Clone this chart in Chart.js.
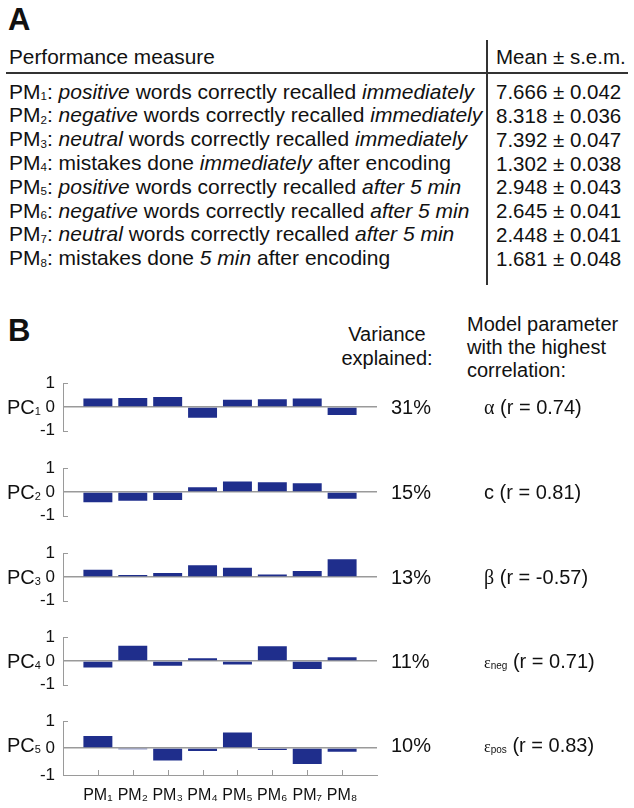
<!DOCTYPE html>
<html>
<head>
<meta charset="utf-8">
<script src="https://cdn.jsdelivr.net/npm/chart.js@4.4.1/dist/chart.umd.min.js"></script>
<style>
  html, body { margin: 0; padding: 0; background: #fff; }
  #fig { position: relative; width: 634px; height: 808px; overflow: hidden;
         font-family: 'Liberation Sans', Arial, Helvetica, sans-serif; color: #111; }
  .t { position: absolute; white-space: nowrap; line-height: normal; }
  .t sub { font-size: 0.55em; vertical-align: baseline; position: relative; top: 0.12em; }
  .t .gr { font-family: 'Liberation Serif', 'Times New Roman', serif; }
  .t .eps { font-family: 'Liberation Serif', 'Times New Roman', serif; font-size: 0.8em; }
  .t .eps + sub { font-size: 0.5em; }
  .box { position: absolute; }
  .rule { position: absolute; background: #333; }
</style>
</head>
<body>
<div id="fig"></div>
<script>
// Tabla A
const PM_LABELS = ['PM₁', 'PM₂', 'PM₃', 'PM₄', 'PM₅', 'PM₆', 'PM₇', 'PM₈'];
const PM_TEXT = [
  '<i>positive</i> words correctly recalled <i>immediately</i>',
  '<i>negative</i> words correctly recalled <i>immediately</i>',
  '<i>neutral</i> words correctly recalled <i>immediately</i>',
  'mistakes done <i>immediately</i> after encoding',
  '<i>positive</i> words correctly recalled <i>after 5 min</i>',
  '<i>negative</i> words correctly recalled <i>after 5 min</i>',
  '<i>neutral</i> words correctly recalled <i>after 5 min</i>',
  'mistakes done <i>5 min</i> after encoding',
];
const MEANS = [7.666, 8.318, 7.392, 1.302, 2.948, 2.645, 2.448, 1.681];
const SEMS = [0.042, 0.036, 0.047, 0.038, 0.043, 0.041, 0.041, 0.048];

// Panel B: cargas de cada componente sobre PM1..PM8
const PC1 = [0.36, 0.38, 0.42, -0.45, 0.30, 0.33, 0.36, -0.34];
const PC2 = [-0.43, -0.37, -0.34, 0.20, 0.44, 0.41, 0.37, -0.28];
const PC3 = [0.30, 0.08, 0.17, 0.49, 0.39, 0.10, 0.25, 0.75];
const PC4 = [-0.27, 0.64, -0.20, 0.12, -0.15, 0.62, -0.34, 0.16];
const PC5 = [0.45, -0.04, -0.46, -0.11, 0.58, -0.07, -0.59, -0.14];
const COMPONENTS = [PC1, PC2, PC3, PC4, PC5];
const VARIANCE = [31, 15, 13, 11, 10];
const PARAM_NAMES = [
  '<span class="gr">α</span>',
  'c',
  '<span class="gr">β</span>',
  '<span class="eps">ε</span><sub>neg</sub>',
  '<span class="eps">ε</span><sub>pos</sub>',
];
const PARAM_R = [0.74, 0.81, -0.57, 0.71, 0.83];

const BAR_COLOR = '#1f2e8c';
const AXIS_GRAY = '#9a9a9a';
const FONT = "'Liberation Sans', Arial, Helvetica, sans-serif";

const fig = document.getElementById('fig');

function text(html, x, base, size, opts = {}) {
  const el = document.createElement('div');
  el.className = 't';
  el.innerHTML = html;
  el.style.fontSize = size + 'px';
  el.style.top = (base - 0.92 * size) + 'px';
  if (opts.bold) el.style.fontWeight = 'bold';
  fig.appendChild(el);
  const w = el.getBoundingClientRect().width;
  if (opts.align === 'center') el.style.left = (x - w / 2) + 'px';
  else if (opts.align === 'right') el.style.left = (x - w) + 'px';
  else el.style.left = x + 'px';
  return el;
}

function rule(x, y, w, h) {
  const el = document.createElement('div');
  el.className = 'rule';
  Object.assign(el.style, { left: x + 'px', top: y + 'px', width: w + 'px', height: h + 'px' });
  fig.appendChild(el);
}

// ---- A ----
text('A', 8, 31, 31, { bold: true });
text('Performance measure', 9, 64, 20.8);
text('Mean ± s.e.m.', 496, 64, 20.5);
rule(6, 72, 622, 2);
rule(486, 40, 1.5, 245);

PM_TEXT.forEach((desc, i) => {
  const base = 99 + i * 23.8;
  text(`PM<sub>${i + 1}</sub>: ${desc}`, 9, base, 21);
  text(`${MEANS[i].toFixed(3)} ± ${SEMS[i].toFixed(3)}`, 496, base, 20.5);
});

// ---- B ----
text('B', 8, 342, 31, { bold: true });
text('Variance', 387, 341, 20, { align: 'center' });
text('explained:', 387, 365, 20, { align: 'center' });
text('Model parameter', 467, 331, 20);
text('with the highest', 467, 354, 20);
text('correlation:', 467, 377, 20);

// marcas del eje: corchete en ±1 y ticks interiores del eje x
const axisDecor = {
  id: 'axisDecor',
  afterDraw(chart) {
    const { ctx, chartArea: { left, bottom }, scales: { x, y } } = chart;
    ctx.save();
    ctx.strokeStyle = AXIS_GRAY;
    ctx.lineWidth = 1;
    ctx.beginPath();
    [1, -1].forEach((v) => {
      const py = Math.round(y.getPixelForValue(v)) + 0.5;
      ctx.moveTo(left, py); ctx.lineTo(left + 5, py);
    });
    if (chart.options.scales.x.display) {
      PM_LABELS.forEach((_, i) => {
        const px = Math.round(x.getPixelForValue(i + 1)) + 0.5;
        ctx.moveTo(px, bottom); ctx.lineTo(px, bottom - 5);
      });
    }
    ctx.stroke();
    ctx.restore();
  },
};

function drawPC(canvas, values, withAxis) {
  const xScale = {
    display: withAxis,
    offset: false,
    grid: { display: false, drawTicks: false },
    border: { display: true, color: AXIS_GRAY },
    ticks: { padding: 11, autoSkip: false, maxRotation: 0, color: '#111', font: { family: FONT, size: 16 } },
  };
  if (withAxis) xScale.afterFit = (s) => { s.height = 32; };

  return new Chart(canvas.getContext('2d'), {
    type: 'bar',
    plugins: [axisDecor],
    data: {
      labels: ['', ...PM_LABELS, ''],
      datasets: [{
        data: [null, ...values, null],
        backgroundColor: BAR_COLOR,
        barPercentage: 0.83,
        categoryPercentage: 1,
      }],
    },
    options: {
      responsive: true,
      maintainAspectRatio: false,
      animation: false,
      layout: { padding: { top: 12, bottom: withAxis ? 0 : 12, left: 0, right: 13 } },
      plugins: { legend: { display: false }, tooltip: { enabled: false } },
      scales: {
        x: xScale,
        y: {
          min: -1, max: 1,
          afterFit: (s) => { s.width = 63; },
          grid: {
            color: (c) => (c.tick && c.tick.value === 0 ? AXIS_GRAY : 'rgba(0,0,0,0)'),
            lineWidth: 1.5,
            drawTicks: false,
          },
          border: { color: AXIS_GRAY, width: 1 },
          ticks: { stepSize: 1, autoSkip: false, padding: 8, color: '#111', font: { family: FONT, size: 17 } },
        },
      },
    },
  });
}

const ZERO_Y = [407, 492, 577, 661, 745];
COMPONENTS.forEach((vals, i) => {
  const last = i === COMPONENTS.length - 1;
  const box = document.createElement('div');
  box.className = 'box';
  Object.assign(box.style, {
    left: '0px', top: (ZERO_Y[i] - 42) + 'px', width: '390px', height: (last ? 104 : 84) + 'px',
  });
  const cv = document.createElement('canvas');
  box.appendChild(cv);
  fig.appendChild(box);
  drawPC(cv, vals, last);

  text(`PC<sub>${i + 1}</sub>`, 7, ZERO_Y[i] + 7, 20);
  text(`${VARIANCE[i]}%`, 391, ZERO_Y[i] + 7, 20);
  text(`${PARAM_NAMES[i]} (r = ${PARAM_R[i].toFixed(2)})`, 484, ZERO_Y[i] + 7, 20);
});
</script>
</body>
</html>
